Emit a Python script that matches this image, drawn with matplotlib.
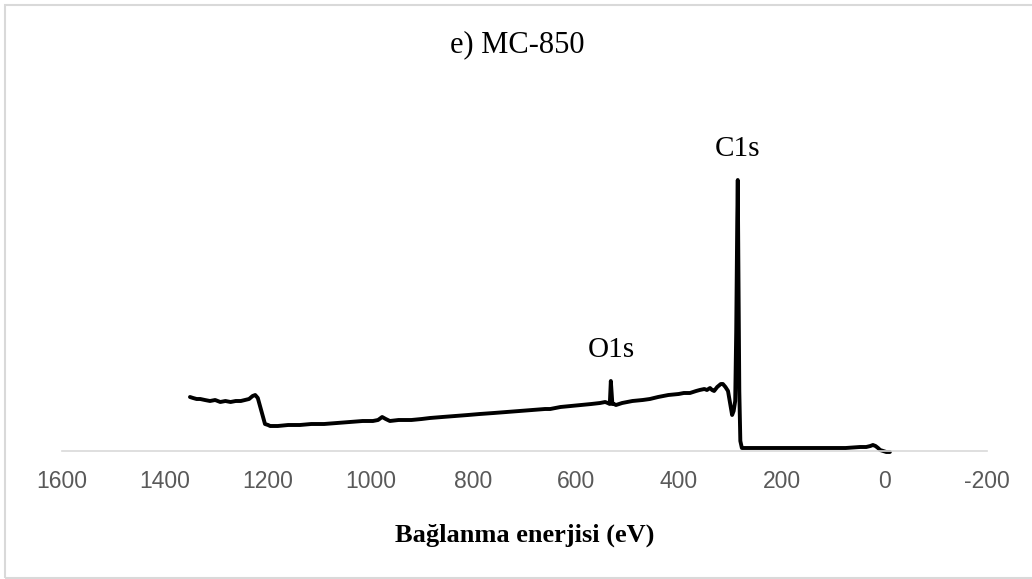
import numpy as np
import matplotlib.pyplot as plt
from matplotlib.patches import Rectangle

plt.rcParams['axes.unicode_minus'] = False

# XPS survey spectrum, MC-850 (binding energy in eV, intensity in a.u.)
energy = [1351, 1345, 1338, 1331, 1322, 1312, 1302, 1292, 1282, 1272, 1262,
          1252, 1244, 1236, 1229, 1224, 1219, 1212, 1205, 1199, 1195, 1180,
          1160, 1137, 1115, 1090, 1065, 1040, 1015, 995, 985, 977, 970, 962,
          945, 920, 900, 884, 860, 835, 810, 787, 760, 735, 710, 685, 660,
          650, 630, 610, 590, 570, 553, 543, 538, 534, 532, 529, 526, 522,
          510, 490, 470, 456, 440, 420, 400, 390, 378, 366, 359, 350, 345,
          339, 335, 331, 325, 318, 314, 309, 304, 300, 296, 293, 290, 288,
          286, 285, 284, 282, 280, 277, 260, 230, 200, 164, 130, 100, 75,
          47, 35, 27, 22, 17, 12, 8, 2, -4, -11]
intensity = [54, 53, 52, 52, 51, 50, 51, 49, 50, 49, 50,
             50, 51, 52, 55, 56, 53, 40, 27, 26, 25, 25,
             26, 26, 27, 27, 28, 29, 30, 30, 31, 34, 32, 30,
             31, 31, 32, 33, 34, 35, 36, 37, 38, 39, 40, 41, 42,
             42, 44, 45, 46, 47, 48, 49, 48, 47, 70, 47, 47, 46,
             48, 50, 51, 52, 54, 56, 57, 58, 58, 60, 61, 62, 61,
             63, 61, 60, 64, 67, 67, 64, 60, 48, 36, 40, 50, 120,
             230, 271, 200, 60, 10, 3, 3, 3, 3, 3, 3, 3, 3,
             4, 4, 5, 6, 5, 3, 1, 0, -1, -1]

peak_names = ['C1s', 'O1s']
peak_pos = [285, 532]
peak_top = [271, 70]

fig = plt.figure(figsize=(10.32, 5.79), dpi=100)
ax = fig.add_axes([62/1032, 1 - 451/579, 925/1032, 351/579])

ax.plot(energy, intensity, color='black', linewidth=2.8,
        solid_joinstyle='round', solid_capstyle='round', clip_on=False)

for name, e, top in zip(peak_names, peak_pos, peak_top):
    ax.text(e, top + 18, name, ha='center', va='bottom',
            family='Liberation Serif', fontsize=21)

ax.set_xlim(1600, -200)
ax.set_ylim(0, 351)
ax.set_xticks(np.arange(1600, -201, -200))
ax.set_yticks([])
for s in ['top', 'left', 'right']:
    ax.spines[s].set_visible(False)
ax.spines['bottom'].set_color('#d9d9d9')
ax.spines['bottom'].set_linewidth(1.2)
ax.tick_params(axis='x', length=0, pad=14, labelsize=16.5,
               labelcolor='#595959')
for lab in ax.get_xticklabels():
    lab.set_family('Liberation Sans')

ax.set_xlabel('Bağlanma enerjisi (eV)', family='Liberation Serif',
              fontweight='bold', fontsize=19, labelpad=22)

fig.text(517/1032, 1 - 45/579, 'e) MC-850', ha='center', va='center',
         family='Liberation Serif', fontsize=22)

# light frame around the whole chart
fig.patches.append(Rectangle((5/1032, 1/579), 1040/1032, 573/579,
                             transform=fig.transFigure, fill=False,
                             edgecolor='#d9d9d9', linewidth=1.5))

fig.savefig('out.png', dpi=100)
